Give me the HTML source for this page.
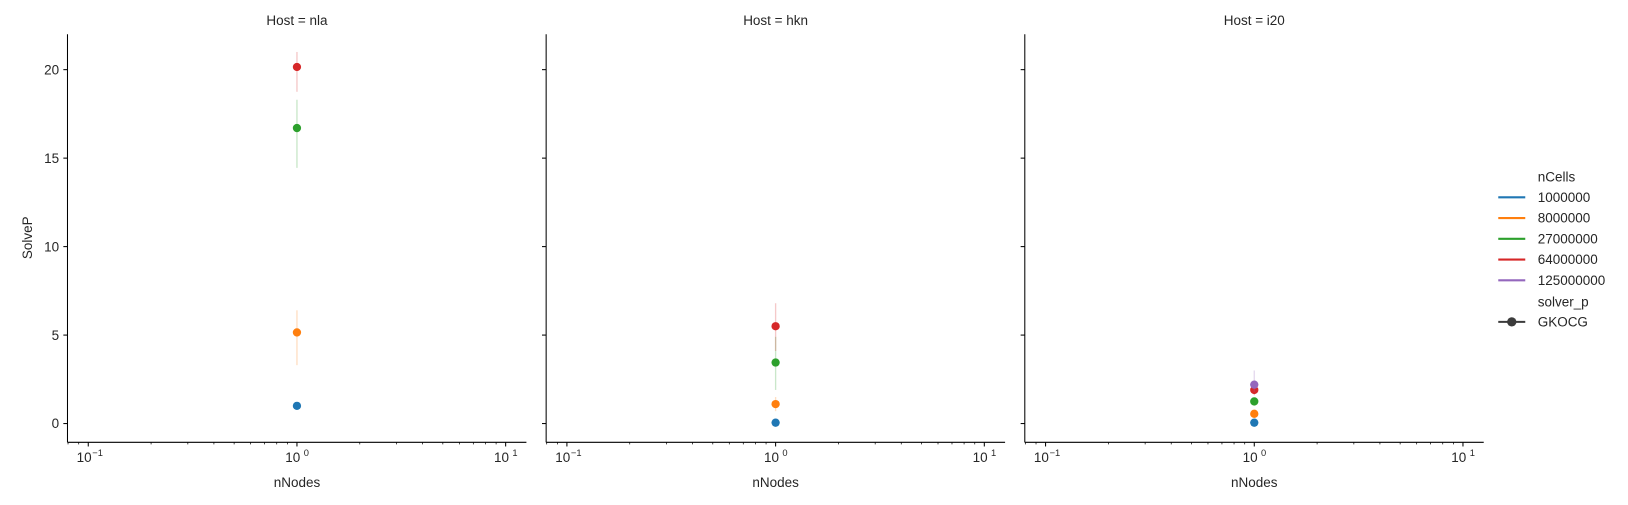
<!DOCTYPE html>
<html><head><meta charset="utf-8"><style>
body{margin:0;background:#fff}
text{font-family:"Liberation Sans","DejaVu Sans",sans-serif;fill:#262626}
</style></head><body>
<svg width="1628" height="500" xmlns="http://www.w3.org/2000/svg"><g id="c" transform="scale(1.0383)"></g></svg>
<script>
const hosts=["nla","hkn","i20"];
const cellLabels=["1000000","8000000","27000000","64000000","125000000"];
const colors=["#1f77b4","#ff7f0e","#2ca02c","#d62728","#9467bd"];
const nodesX=[1,1,1,1,1];
const meanNla=[1.0,5.15,16.7,20.15,null];
const loNla=[0.95,3.3,14.45,18.75,null];
const hiNla=[1.05,6.4,18.3,21.0,null];
const meanHkn=[0.05,1.1,3.45,5.5,null];
const loHkn=[0.03,0.7,1.9,4.1,null];
const hiHkn=[0.07,1.5,4.9,6.8,null];
const meanI20=[0.05,0.55,1.25,1.9,2.2];
const loI20=[0.03,0.45,1.1,1.6,1.8];
const hiI20=[0.07,0.65,1.4,2.2,3.0];
const yTicks=[0,5,10,15,20];
const xTicks=[0.1,1,10];
const xTickLabels=["10","10","10"];
const xTickExp=["−1","0","1"];

const NS="http://www.w3.org/2000/svg";
const svg=document.getElementById("c");
function mk(tag,attrs,parent){const e=document.createElementNS(NS,tag);for(const k in attrs)e.setAttribute(k,attrs[k]);(parent||svg).appendChild(e);return e;}
const panelX=[65,526,987],pw=442,axTop=33,axBot=426;
const yMin=-1.06,yMax=22.0;
function ys(v){return axBot-(v-yMin)/(yMax-yMin)*(axBot-axTop);}
function xs(p,v){return panelX[p]+20+(Math.log10(v)+1)*201;}
const means=[meanNla,meanHkn,meanI20],los=[loNla,loHkn,loI20],his=[hiNla,hiHkn,hiI20];
hosts.forEach((h,p)=>{
  const g=mk("g",{});
  
  
  const x0=panelX[p];
  const t=mk("text",{x:x0+pw/2,y:24,"text-anchor":"middle","font-size":"13"},g);t.textContent="Host = "+h;
  
  
  mk("line",{x1:x0,y1:axTop,x2:x0,y2:axBot,stroke:"#000","stroke-width":1},g);
  mk("line",{x1:x0,y1:axBot,x2:x0+pw,y2:axBot,stroke:"#000","stroke-width":1},g);
  yTicks.forEach(v=>{const y=ys(v);mk("line",{x1:x0-4,y1:y,x2:x0,y2:y,stroke:"#000"},g);
    if(p===0){const tt=mk("text",{x:x0-8,y:y+4.5,"text-anchor":"end","font-size":"13"},g);tt.textContent=v;
      
      }});
  for(let d=-2;d<=1;d++)for(let m=2;m<=9;m++){const v=m*Math.pow(10,d);const x=xs(p,v);if(x>x0&&x<x0+pw)mk("line",{x1:x,y1:axBot,x2:x,y2:axBot+2,stroke:"#000","stroke-width":0.7},g);}
  xTicks.forEach((v,i)=>{const x=xs(p,v);mk("line",{x1:x,y1:axBot,x2:x,y2:axBot+4,stroke:"#000"},g);
    const tt=mk("text",{x:x-4,y:axBot+19,"text-anchor":"middle","font-size":"13"},g);tt.textContent=xTickLabels[i];
    
    
    const te=mk("text",{x:x+9,y:axBot+13,"text-anchor":"middle","font-size":"9"},g);te.textContent=xTickExp[i];});
  const xl=mk("text",{x:x0+pw/2,y:469,"text-anchor":"middle","font-size":"13"},g);xl.textContent="nNodes";
  
  
  means[p].forEach((m,i)=>{if(m===null)return;const x=xs(p,nodesX[i]);
    mk("line",{x1:x,y1:ys(los[p][i]),x2:x,y2:ys(his[p][i]),stroke:colors[i],"stroke-width":1.3,"stroke-opacity":0.25},g);
    const c=mk("circle",{cx:x,cy:ys(m),r:4,fill:colors[i]},g);
    
    });
});
const yt=mk("text",{x:31,y:229,"text-anchor":"middle","font-size":"13",transform:"rotate(-90 31 229)"});yt.textContent="SolveP";


const lg=mk("g",{});


let t1=mk("text",{x:1481,y:175,"font-size":"13"},lg);t1.textContent="nCells";
cellLabels.forEach((l,i)=>{const y=190+i*20;mk("line",{x1:1443,y1:y,x2:1469,y2:y,stroke:colors[i],"stroke-width":2},lg);
  const tt=mk("text",{x:1481,y:y+4.5,"font-size":"13"},lg);tt.textContent=l;
  
  });
let t2=mk("text",{x:1481,y:295,"font-size":"13"},lg);t2.textContent="solver_p";
mk("line",{x1:1443,y1:310,x2:1469,y2:310,stroke:"#3b3b3b","stroke-width":2},lg);
mk("circle",{cx:1456,cy:310,r:4.5,fill:"#3b3b3b"},lg);
let t3=mk("text",{x:1481,y:314.5,"font-size":"13"},lg);t3.textContent="GKOCG";
</script>
</body></html>
